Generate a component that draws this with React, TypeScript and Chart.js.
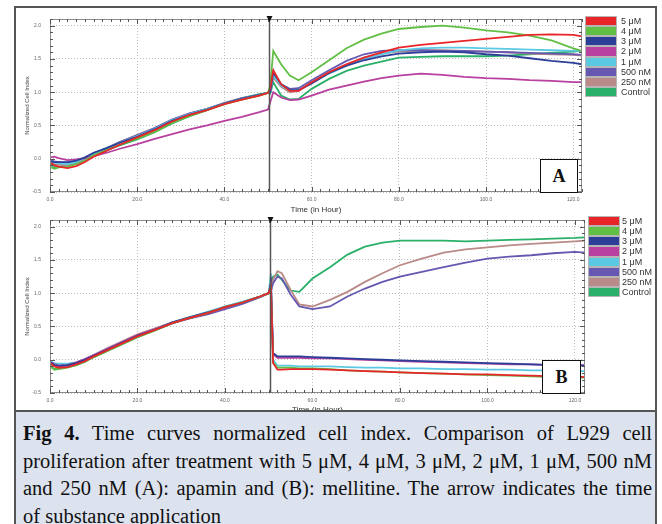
import React, { useEffect, useRef } from 'react';
import { Chart, registerables } from 'chart.js';

Chart.register(...registerables);
Chart.defaults.font.family = 'Arial, "Liberation Sans", sans-serif';

// ---------- data ----------
const seriesLabels = ['5 μM', '4 μM', '3 μM', '2 μM', '1 μM', '500 nM', '250 nM', 'Control'];
const seriesColors = ['#e8262a', '#62bf46', '#2c3f98', '#b8409e', '#5cc9e2', '#6658b0', '#b98a88', '#2bb06a'];

const xTickValues = [0, 20, 40, 60, 80, 100, 120];
const yTickValues = [-0.5, 0, 0.5, 1.0, 1.5, 2.0];
const markerTime = 50.2;

// time points (hours)
const preTimes = [0, 1, 2, 4, 6, 8, 10, 13, 16, 20, 24, 28, 32, 36, 40, 44, 48, 50];
const postTimesA = [50.5, 51.2, 53, 55, 57, 60, 64, 68, 72, 76, 80, 85, 90, 95, 100, 105, 110, 115, 120, 122];
const postTimesB = [50.5, 51.0, 52, 53, 55, 57, 60, 64, 68, 72, 76, 80, 85, 90, 95, 100, 105, 110, 115, 120, 122.3];

// Panel A (apamin) — before treatment
const aPre5uM = [-0.06, -0.10, -0.12, -0.14, -0.11, -0.05, 0.03, 0.12, 0.21, 0.32, 0.43, 0.56, 0.66, 0.73, 0.82, 0.89, 0.95, 0.99];
const aPre4uM = [-0.12, -0.15, -0.13, -0.12, -0.08, -0.03, 0.05, 0.13, 0.21, 0.30, 0.40, 0.54, 0.64, 0.73, 0.82, 0.89, 0.95, 0.99];
const aPre3uM = [-0.04, -0.05, -0.05, -0.05, -0.03, 0.02, 0.09, 0.16, 0.24, 0.33, 0.44, 0.57, 0.66, 0.74, 0.83, 0.90, 0.96, 0.99];
const aPre2uM = [0.02, 0.03, 0.01, -0.02, -0.01, 0.01, 0.04, 0.09, 0.15, 0.22, 0.30, 0.37, 0.44, 0.50, 0.57, 0.63, 0.70, 0.74];
const aPre1uM = [-0.03, -0.06, -0.07, -0.08, -0.05, 0.01, 0.08, 0.16, 0.24, 0.34, 0.45, 0.58, 0.67, 0.75, 0.83, 0.90, 0.96, 0.99];
const aPre500nM = [-0.02, -0.04, -0.05, -0.06, -0.04, 0.01, 0.08, 0.16, 0.25, 0.35, 0.46, 0.59, 0.68, 0.75, 0.84, 0.91, 0.96, 0.99];
const aPre250nM = [-0.05, -0.08, -0.09, -0.10, -0.07, -0.01, 0.07, 0.16, 0.25, 0.36, 0.46, 0.59, 0.68, 0.75, 0.83, 0.90, 0.96, 0.99];
const aPreControl = [-0.08, -0.13, -0.12, -0.10, -0.07, -0.02, 0.05, 0.13, 0.20, 0.29, 0.40, 0.53, 0.64, 0.73, 0.83, 0.91, 0.97, 0.99];

// Panel A — after treatment
const aPost5uM = [1.05, 1.33, 1.12, 1.02, 1.02, 1.15, 1.30, 1.42, 1.52, 1.60, 1.67, 1.71, 1.74, 1.77, 1.80, 1.83, 1.86, 1.87, 1.86, 1.84];
const aPost4uM = [1.10, 1.62, 1.42, 1.25, 1.18, 1.30, 1.48, 1.66, 1.79, 1.88, 1.95, 1.98, 2.00, 1.97, 1.93, 1.90, 1.85, 1.78, 1.66, 1.62];
const aPost3uM = [1.00, 1.30, 1.12, 1.03, 1.03, 1.13, 1.29, 1.40, 1.48, 1.54, 1.58, 1.60, 1.61, 1.60, 1.57, 1.55, 1.51, 1.47, 1.44, 1.42];
const aPost2uM = [0.85, 1.00, 0.92, 0.88, 0.89, 0.95, 1.04, 1.10, 1.16, 1.21, 1.25, 1.28, 1.26, 1.23, 1.21, 1.20, 1.18, 1.17, 1.15, 1.15];
const aPost1uM = [1.00, 1.25, 1.10, 1.02, 1.03, 1.14, 1.28, 1.40, 1.50, 1.57, 1.63, 1.66, 1.67, 1.67, 1.66, 1.65, 1.64, 1.63, 1.62, 1.62];
const aPost500nM = [1.00, 1.28, 1.12, 1.05, 1.06, 1.18, 1.33, 1.47, 1.57, 1.62, 1.63, 1.63, 1.62, 1.62, 1.61, 1.60, 1.59, 1.58, 1.57, 1.56];
const aPost250nM = [1.00, 1.22, 1.08, 1.00, 1.02, 1.14, 1.30, 1.42, 1.52, 1.58, 1.61, 1.63, 1.63, 1.62, 1.61, 1.60, 1.58, 1.57, 1.56, 1.55];
const aPostControl = [0.98, 1.15, 0.95, 0.89, 0.90, 1.05, 1.20, 1.32, 1.40, 1.46, 1.52, 1.53, 1.54, 1.54, 1.54, 1.55, 1.57, 1.59, 1.61, 1.62];

// Panel B (mellitine) — before treatment
const bPre5uM = [-0.05, -0.10, -0.12, -0.11, -0.07, -0.02, 0.05, 0.14, 0.23, 0.35, 0.45, 0.55, 0.63, 0.70, 0.79, 0.86, 0.95, 1.00];
const bPre4uM = [-0.10, -0.15, -0.14, -0.12, -0.08, -0.03, 0.04, 0.13, 0.22, 0.34, 0.44, 0.55, 0.63, 0.70, 0.79, 0.86, 0.95, 1.00];
const bPre3uM = [-0.04, -0.08, -0.09, -0.08, -0.05, 0.00, 0.06, 0.15, 0.24, 0.36, 0.45, 0.56, 0.64, 0.71, 0.79, 0.86, 0.95, 1.00];
const bPre2uM = [-0.03, -0.07, -0.09, -0.08, -0.04, 0.01, 0.07, 0.16, 0.25, 0.37, 0.46, 0.56, 0.63, 0.70, 0.78, 0.86, 0.95, 1.00];
const bPre1uM = [-0.02, -0.05, -0.06, -0.06, -0.04, 0.01, 0.07, 0.16, 0.25, 0.36, 0.46, 0.56, 0.64, 0.72, 0.80, 0.87, 0.95, 1.00];
const bPre500nM = [-0.04, -0.08, -0.10, -0.09, -0.05, 0.00, 0.06, 0.15, 0.24, 0.36, 0.45, 0.55, 0.62, 0.68, 0.76, 0.84, 0.94, 1.00];
const bPre250nM = [-0.05, -0.09, -0.10, -0.09, -0.05, 0.01, 0.07, 0.17, 0.26, 0.38, 0.47, 0.56, 0.63, 0.69, 0.77, 0.85, 0.94, 1.00];
const bPreControl = [-0.08, -0.14, -0.12, -0.11, -0.08, -0.03, 0.04, 0.13, 0.22, 0.34, 0.44, 0.55, 0.63, 0.71, 0.80, 0.87, 0.95, 1.00];

// Panel B — after treatment
const bPost5uM = [1.10, -0.05, -0.15, -0.15, -0.14, -0.14, -0.14, -0.15, -0.16, -0.17, -0.18, -0.19, -0.20, -0.21, -0.22, -0.22, -0.23, -0.24, -0.25, -0.25, -0.26];
const bPost4uM = [1.10, -0.04, -0.12, -0.12, -0.12, -0.13, -0.13, -0.14, -0.16, -0.17, -0.18, -0.19, -0.20, -0.21, -0.22, -0.23, -0.24, -0.25, -0.26, -0.27, -0.27];
const bPost3uM = [1.15, 0.10, 0.05, 0.05, 0.05, 0.05, 0.04, 0.03, 0.02, 0.01, 0.00, -0.01, -0.02, -0.03, -0.04, -0.05, -0.06, -0.07, -0.08, -0.09, -0.09];
const bPost2uM = [1.15, 0.08, 0.03, 0.03, 0.03, 0.03, 0.02, 0.02, 0.01, 0.00, -0.01, -0.02, -0.03, -0.04, -0.05, -0.06, -0.07, -0.07, -0.08, -0.08, -0.08];
const bPost1uM = [1.30, 0.00, -0.09, -0.09, -0.09, -0.10, -0.10, -0.10, -0.11, -0.12, -0.12, -0.13, -0.13, -0.14, -0.14, -0.15, -0.15, -0.16, -0.16, -0.17, -0.17];
const bPost500nM = [1.02, 1.15, 1.25, 1.22, 0.98, 0.80, 0.76, 0.80, 0.95, 1.07, 1.17, 1.25, 1.32, 1.39, 1.46, 1.52, 1.55, 1.57, 1.60, 1.62, 1.61];
const bPost250nM = [1.05, 1.20, 1.33, 1.30, 1.05, 0.83, 0.80, 0.90, 1.02, 1.17, 1.30, 1.42, 1.52, 1.61, 1.66, 1.69, 1.72, 1.74, 1.76, 1.78, 1.79];
const bPostControl = [1.05, 1.25, 1.28, 1.20, 1.04, 1.02, 1.22, 1.39, 1.58, 1.70, 1.76, 1.79, 1.79, 1.79, 1.78, 1.79, 1.80, 1.81, 1.82, 1.83, 1.84];

const panelASeries = [
  [aPre5uM, aPost5uM], [aPre4uM, aPost4uM], [aPre3uM, aPost3uM], [aPre2uM, aPost2uM],
  [aPre1uM, aPost1uM], [aPre500nM, aPost500nM], [aPre250nM, aPost250nM], [aPreControl, aPostControl],
];
const panelBSeries = [
  [bPre5uM, bPost5uM], [bPre4uM, bPost4uM], [bPre3uM, bPost3uM], [bPre2uM, bPost2uM],
  [bPre1uM, bPost1uM], [bPre500nM, bPost500nM], [bPre250nM, bPost250nM], [bPreControl, bPostControl],
];

const captionLines = [
  ' Time curves normalized cell index. Comparison of L929 cell',
  'proliferation after treatment with 5 μM, 4 μM, 3 μM, 2 μM, 1 μM, 500 nM',
  'and 250 nM (A): apamin and (B): mellitine. The arrow indicates the time',
  'of substance application',
];

// ---------- chart helpers ----------
const decorPlugin = {
  id: 'decor',
  afterDraw(chart: any, _args: any, opts: any) {
    const { ctx, chartArea: ca } = chart;
    const x = chart.scales.x;
    const y = chart.scales.y;
    ctx.save();
    // frame
    ctx.strokeStyle = '#8c8c8c';
    ctx.lineWidth = 1;
    ctx.strokeRect(ca.left + 0.5, ca.top + 0.5, ca.right - ca.left - 1, ca.bottom - ca.top - 1);
    // minor / major tick marks on all sides (inward)
    ctx.strokeStyle = '#555';
    ctx.beginPath();
    for (let k = 0; k * 2 <= x.max + 1e-6; k++) {
      const t = k * 2;
      const px = Math.round(x.getPixelForValue(t)) + 0.5;
      const len = t % 20 === 0 ? 5 : 3;
      ctx.moveTo(px, ca.bottom);
      ctx.lineTo(px, ca.bottom - len);
      ctx.moveTo(px, ca.top);
      ctx.lineTo(px, ca.top + len);
    }
    for (let k = -5; k / 10 <= y.max + 1e-6; k++) {
      const py = Math.round(y.getPixelForValue(k / 10)) + 0.5;
      const len = k % 5 === 0 ? 5 : 3;
      ctx.moveTo(ca.left, py);
      ctx.lineTo(ca.left + len, py);
      ctx.moveTo(ca.right, py);
      ctx.lineTo(ca.right - len, py);
    }
    ctx.stroke();
    // treatment marker
    const mx = Math.round(x.getPixelForValue(opts.markerTime)) + 0.5;
    ctx.strokeStyle = '#555';
    ctx.lineWidth = 1.5;
    ctx.beginPath();
    ctx.moveTo(mx, ca.top);
    ctx.lineTo(mx, ca.bottom);
    ctx.stroke();
    ctx.fillStyle = '#111';
    ctx.beginPath();
    ctx.moveTo(mx - 3, ca.top - 3);
    ctx.lineTo(mx + 3, ca.top - 3);
    ctx.lineTo(mx, ca.top + 3);
    ctx.closePath();
    ctx.fill();
    ctx.restore();
  },
};

function buildConfig(series: number[][][], postTimes: number[], xMax: number, xHeight: number) {
  const times = preTimes.concat(postTimes);
  const datasets = series.map((s, i) => {
    const vals = s[0].concat(s[1]);
    return {
      label: seriesLabels[i],
      data: times.map((t, j) => ({ x: t, y: vals[j] })),
      borderColor: seriesColors[i],
      backgroundColor: seriesColors[i],
      borderWidth: 1.8,
      pointRadius: 0,
      tension: 0,
      fill: false,
    };
  });
  return {
    type: 'line' as const,
    data: { datasets },
    plugins: [decorPlugin],
    options: {
      animation: false as const,
      responsive: false,
      maintainAspectRatio: false,
      layout: { padding: { left: 0, right: 4, top: 9, bottom: 0 } },
      plugins: {
        legend: { display: false },
        tooltip: { enabled: false },
        decor: { markerTime },
      },
      scales: {
        x: {
          type: 'linear' as const,
          min: 0,
          max: xMax,
          afterBuildTicks: (s: any) => { s.ticks = xTickValues.map((v) => ({ value: v })); },
          afterFit: (s: any) => { s.height = xHeight; },
          ticks: {
            callback: (v: any) => Number(v).toFixed(1),
            font: { size: 5 },
            color: '#666',
            padding: 5,
            maxRotation: 0,
            autoSkip: false,
          },
          grid: { color: '#bdbdbd', lineWidth: 1, drawTicks: false },
          border: { display: false, dash: [1, 2] },
          title: { display: true, text: 'Time (in Hour)', font: { size: 8 }, color: '#333', padding: 0 },
        },
        y: {
          type: 'linear' as const,
          min: -0.5,
          max: 2.1,
          afterBuildTicks: (s: any) => { s.ticks = yTickValues.map((v) => ({ value: v })); },
          afterFit: (s: any) => { s.width = 36; },
          ticks: {
            callback: (v: any) => Number(v).toFixed(1),
            font: { size: 5 },
            color: '#666',
            padding: 9,
            autoSkip: false,
          },
          grid: { color: '#bdbdbd', lineWidth: 1, drawTicks: false },
          border: { display: false, dash: [1, 2] },
          title: { display: true, text: 'Normalized Cell Index', font: { size: 6 }, color: '#444', padding: { top: 10, bottom: 0 } },
        },
      },
    },
  };
}

function Legend({ left, top, textLeft }: { left: number; top: number; textLeft: number }) {
  const rowH = 10.15;
  return (
    <>
      {seriesLabels.map((lab, i) => (
        <React.Fragment key={lab}>
          <div
            style={{
              position: 'absolute', left, top: top + i * rowH, width: 32, height: rowH,
              background: seriesColors[i], border: '1px solid #b5b5b5', boxSizing: 'border-box',
            }}
          />
          <div
            style={{
              position: 'absolute', left: textLeft, top: top + i * rowH, height: rowH,
              lineHeight: rowH + 'px', fontSize: 9, color: '#333', whiteSpace: 'nowrap',
              fontFamily: 'Arial, "Liberation Sans", sans-serif',
            }}
          >
            {lab}
          </div>
        </React.Fragment>
      ))}
    </>
  );
}

function PanelLabel({ text, left, top, width, height }: { text: string; left: number; top: number; width: number; height: number }) {
  return (
    <div
      style={{
        position: 'absolute', left, top, width, height, background: '#fff', border: '1.3px solid #111',
        boxSizing: 'border-box', display: 'flex', alignItems: 'center', justifyContent: 'center',
        fontFamily: '"Liberation Serif", "Times New Roman", serif', fontWeight: 'bold', fontSize: 18, color: '#111',
      }}
    >
      {text}
    </div>
  );
}

export default function App() {
  const refA = useRef<HTMLCanvasElement>(null);
  const refB = useRef<HTMLCanvasElement>(null);

  useEffect(() => {
    const chartA = new Chart(refA.current as HTMLCanvasElement, buildConfig(panelASeries, postTimesA, 122, 23) as any);
    const chartB = new Chart(refB.current as HTMLCanvasElement, buildConfig(panelBSeries, postTimesB, 122.3, 22) as any);
    return () => {
      chartA.destroy();
      chartB.destroy();
    };
  }, []);

  return (
    <div style={{ position: 'absolute', left: 0, top: 0, width: 662, height: 524, background: '#fff', overflow: 'hidden' }}>
      {/* outer frame */}
      <div
        style={{
          position: 'absolute', left: 14, top: 6, width: 643, height: 530,
          borderLeft: '2px solid #555', borderTop: '2px solid #555', borderRight: '2px solid #555', boxSizing: 'border-box',
        }}
      />
      <canvas ref={refA} width={572} height={208} style={{ position: 'absolute', left: 14, top: 7, width: 572, height: 208 }} />
      <canvas ref={refB} width={575} height={207} style={{ position: 'absolute', left: 14, top: 208, width: 575, height: 207 }} />
      <Legend left={585} top={16} textLeft={621} />
      <Legend left={588} top={216} textLeft={622} />
      <PanelLabel text="A" left={540} top={159} width={38} height={34} />
      <PanelLabel text="B" left={542} top={360} width={39} height={34} />
      {/* caption */}
      <div
        style={{
          position: 'absolute', left: 14, top: 410, width: 643, height: 130, background: '#dde3ee',
          borderTop: '2px solid #555', borderLeft: '2px solid #555', borderRight: '2px solid #555', boxSizing: 'border-box',
        }}
      />
      {captionLines.map((line, i) => (
        <div
          key={i}
          style={{
            position: 'absolute', left: 23, top: 419 + i * 27.5, width: 629, lineHeight: '28px', fontSize: 20.5,
            fontFamily: '"Liberation Serif", "Times New Roman", serif', color: '#111', whiteSpace: 'nowrap',
            textAlign: i === captionLines.length - 1 ? 'left' : 'justify',
            textAlignLast: i === captionLines.length - 1 ? 'left' : 'justify',
          } as React.CSSProperties}
        >
          {i === 0 && <b>Fig 4.</b>}
          {line}
        </div>
      ))}
    </div>
  );
}
